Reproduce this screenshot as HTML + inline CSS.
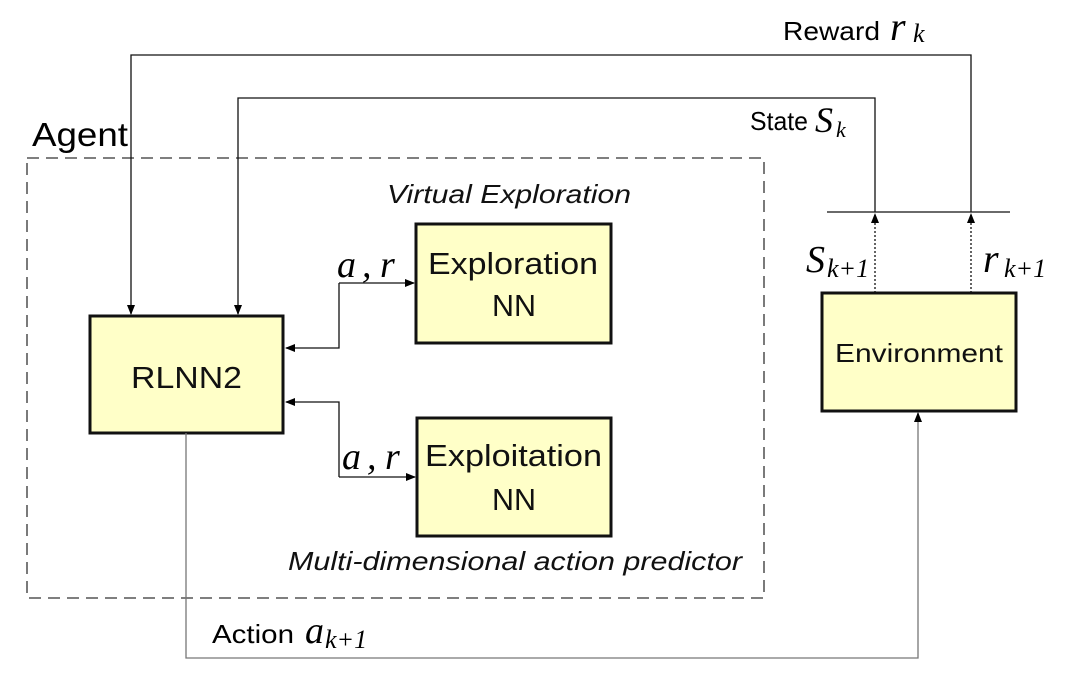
<!DOCTYPE html>
<html><head><style>
body{margin:0;background:#fff;}
svg text{font-family:"Liberation Sans",sans-serif;}
.m{font-family:"Liberation Serif",serif;font-style:italic;}
</style></head><body>
<svg width="1076" height="693" viewBox="0 0 1076 693" xmlns="http://www.w3.org/2000/svg">
<defs><marker id="a" markerWidth="10" markerHeight="8" refX="9" refY="4" orient="auto" markerUnits="userSpaceOnUse"><path d="M0,0 L10,4 L0,8z" fill="#000"/></marker></defs>
<rect x="27" y="158" width="737" height="440" fill="none" stroke="#333" stroke-width="1.3" stroke-dasharray="12,7"/>
<text x="32" y="146" font-size="33" textLength="96" lengthAdjust="spacingAndGlyphs">Agent</text>
<g fill="#ffffc8" stroke="#111" stroke-width="3">
<rect x="90" y="316" width="193" height="117"/>
<rect x="416" y="224" width="195" height="119"/>
<rect x="417" y="418" width="194" height="118"/>
<rect x="822" y="293" width="194" height="118"/>
</g>
<g fill="#111">
<text x="131" y="388" font-size="31" textLength="111" lengthAdjust="spacingAndGlyphs">RLNN2</text>
<text x="428" y="274" font-size="31" textLength="170" lengthAdjust="spacingAndGlyphs">Exploration</text>
<text x="492" y="316" font-size="31" textLength="44" lengthAdjust="spacingAndGlyphs">NN</text>
<text x="425" y="466" font-size="31" textLength="177" lengthAdjust="spacingAndGlyphs">Exploitation</text>
<text x="492" y="510" font-size="31" textLength="44" lengthAdjust="spacingAndGlyphs">NN</text>
<text x="835" y="362" font-size="26" textLength="168" lengthAdjust="spacingAndGlyphs">Environment</text>
</g>
<g font-size="26" font-style="italic" fill="#111">
<text x="387" y="203" textLength="244" lengthAdjust="spacingAndGlyphs">Virtual Exploration</text>
<text x="288" y="570" textLength="454" lengthAdjust="spacingAndGlyphs">Multi-dimensional action predictor</text>
</g>
<g fill="none" stroke="#111" stroke-width="1.3">
<path d="M339,283 H414" marker-end="url(#a)"/><path d="M339,283 V348 H286" marker-end="url(#a)"/>
<path d="M339,477 H415" marker-end="url(#a)"/><path d="M339,477 V402 H286" marker-end="url(#a)"/>
<path d="M971,212 V55 H131 V314" marker-end="url(#a)"/>
<path d="M875,212 V98 H238 V314" marker-end="url(#a)"/>
<path d="M827,212 H1010"/>
<path d="M875,293 V214" stroke-dasharray="2,2" marker-end="url(#a)"/>
<path d="M971,293 V214" stroke-dasharray="2,2" marker-end="url(#a)"/>
<path d="M186,433 V658 H918 V413" stroke="#777" marker-end="url(#a)"/>
</g>
<text x="337" y="277" font-size="38" class="m">a</text><text x="362" y="277" font-size="38" class="m">,</text><text x="380" y="277" font-size="38" class="m">r</text>
<text x="342" y="469" font-size="38" class="m">a</text><text x="367" y="469" font-size="38" class="m">,</text><text x="385" y="469" font-size="38" class="m">r</text>
<text x="783" y="40" font-size="26" textLength="97" lengthAdjust="spacingAndGlyphs">Reward</text><text x="890" y="40" font-size="40" class="m">r</text><text x="913" y="42" font-size="26" class="m">k</text>
<text x="750" y="130" font-size="26" textLength="58" lengthAdjust="spacingAndGlyphs">State</text><text x="815" y="132" font-size="36" class="m">S</text><text x="836" y="137" font-size="22" class="m">k</text>
<text x="806" y="272" font-size="38" class="m">S</text><text x="827" y="277" font-size="26" class="m">k+1</text>
<text x="983" y="272" font-size="40" class="m">r</text><text x="1004" y="277" font-size="26" class="m">k+1</text>
<text x="212" y="643" font-size="26" textLength="82" lengthAdjust="spacingAndGlyphs">Action</text><text x="305" y="643" font-size="38" class="m">a</text><text x="325" y="648" font-size="26" class="m">k+1</text>
</svg>
</body></html>
